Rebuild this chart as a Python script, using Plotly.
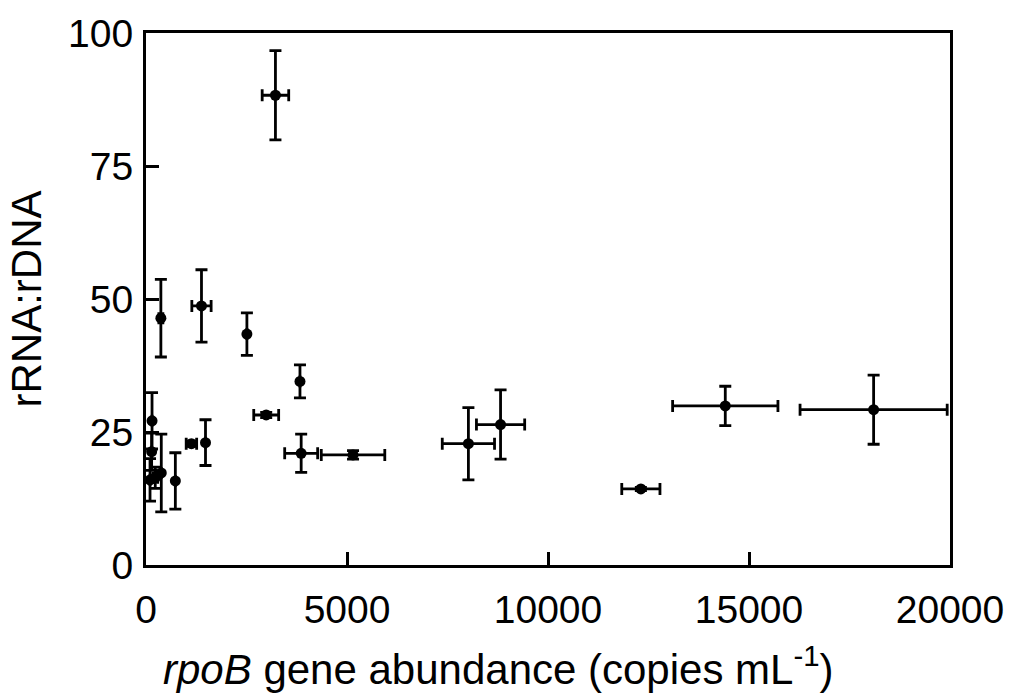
import plotly.graph_objects as go

rpob = [100, 140, 150, 230, 380, 370, 730, 1130, 1380, 1480, 2510, 2990, 3220, 3830, 3860, 5150, 8020, 8820, 12310, 14410, 18100]
ratio = [16.0, 21.3, 27.1, 16.4, 17.3, 46.4, 15.8, 22.8, 48.7, 23.0, 43.4, 28.2, 88.3, 34.5, 21.0, 20.7, 22.8, 26.4, 14.3, 29.9, 29.2]
ratio_err = [4.0, 3.5, 5.3, 2.0, 7.3, 7.3, 5.3, 0.5, 6.8, 4.3, 4.0, 0.5, 8.4, 3.1, 3.6, 0.8, 6.8, 6.5, 0.3, 3.7, 6.5]
rpob_err = [None, None, None, 60, None, 50, None, 130, 240, None, None, 310, 330, None, 410, 790, 650, 600, 475, 1310, 1830]

FONT = "Liberation Sans, Arial, sans-serif"

fig = go.Figure()
fig.add_trace(go.Scatter(
    x=rpob, y=ratio, mode="markers",
    marker=dict(color="black", size=11),
    error_y=dict(type="data", array=ratio_err, visible=True, color="black", thickness=2.8, width=6),
    error_x=dict(type="data", array=rpob_err, visible=True, color="black", thickness=2.8, width=6),
    showlegend=False,
))

fig.add_annotation(
    text="<i>rpoB</i> gene abundance (copies mL<sup>-1</sup>)",
    xref="paper", yref="paper", x=0.438, y=-0.19,
    xanchor="center", yanchor="middle", showarrow=False,
    font=dict(size=42, family=FONT, color="black"),
)

fig.update_layout(
    width=1016, height=698,
    margin=dict(l=146, r=62, t=28, b=133),
    paper_bgcolor="white", plot_bgcolor="white",
    font=dict(family=FONT, color="black", size=38),
    xaxis=dict(
        range=[0, 20000], tickvals=[0, 5000, 10000, 15000, 20000],
        ticktext=["0", "5000", "10000", "15000", "20000"],
        showgrid=False, zeroline=False,
        showline=True, linecolor="black", linewidth=3, mirror=True,
        ticks="inside", ticklen=13, tickwidth=2.5, tickcolor="black",
        tickfont=dict(size=39), ticklabelstandoff=8,
    ),
    yaxis=dict(
        range=[0, 100], tickvals=[0, 25, 50, 75, 100],
        ticktext=["0", "25", "50", "75", "100"],
        showgrid=False, zeroline=False,
        showline=True, linecolor="black", linewidth=3, mirror=True,
        ticks="inside", ticklen=13, tickwidth=2.5, tickcolor="black",
        tickfont=dict(size=39), ticklabelstandoff=2,
        title=dict(text="rRNA:rDNA", font=dict(size=42), standoff=14),
    ),
)

fig.write_html("out.html")
